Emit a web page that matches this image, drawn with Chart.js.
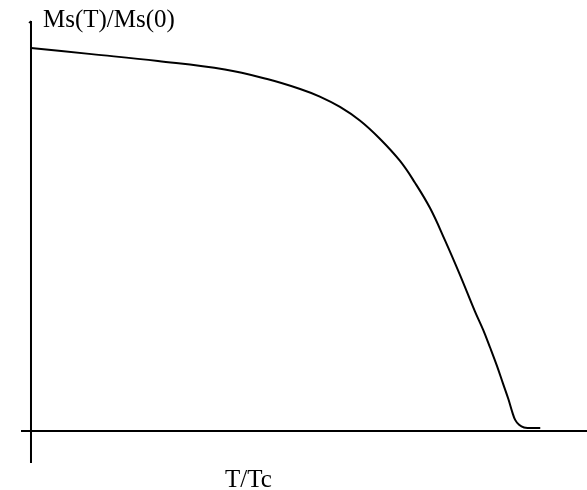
<!DOCTYPE html>
<html>
<head>
<meta charset="utf-8">
<script src="https://cdn.jsdelivr.net/npm/chart.js@4/dist/chart.umd.min.js"></script>
<style>
  html, body { margin: 0; padding: 0; background: #fff; }
  #wrap { width: 587px; height: 490px; position: relative; }
</style>
</head>
<body>
<div id="wrap"><canvas id="c" width="587" height="490"></canvas></div>
<script>
// Data
const tOverTc = [0, 0.123, 0.258, 0.394, 0.480, 0.547, 0.587, 0.628, 0.669, 0.709, 0.750, 0.780, 0.811, 0.841, 0.872, 0.902, 0.919, 0.933, 0.947, 0.959, 0.970, 0.978, 0.984, 0.992, 1.002, 1.014, 1.035];
const msRatio = [1.0, 0.984, 0.966, 0.944, 0.919, 0.893, 0.873, 0.846, 0.810, 0.763, 0.705, 0.649, 0.582, 0.499, 0.407, 0.313, 0.264, 0.218, 0.170, 0.125, 0.084, 0.050, 0.029, 0.016, 0.009, 0.008, 0.008];
const yAxisLabel = "Ms(T)/Ms(0)";
const xAxisLabel = "T/Tc";

const points = tOverTc.map((t, i) => ({ x: t, y: msRatio[i] }));

const axesPlugin = {
  id: 'sketchAxes',
  afterDatasetsDraw(chart) {
    const { ctx, chartArea, scales } = chart;
    const x0 = scales.x.getPixelForValue(0);
    const y0 = scales.y.getPixelForValue(0);
    ctx.save();
    ctx.strokeStyle = '#000';
    ctx.lineWidth = 2;
    ctx.beginPath();
    ctx.moveTo(chartArea.left, y0);
    ctx.lineTo(chartArea.right, y0);
    ctx.moveTo(x0, chartArea.top);
    ctx.lineTo(x0, chartArea.bottom);
    ctx.stroke();
    ctx.lineWidth = 1.5;
    ctx.beginPath();
    ctx.moveTo(x0 - 2, chartArea.top + 2);
    ctx.lineTo(x0, chartArea.top);
    ctx.stroke();
    ctx.fillStyle = '#000';
    ctx.font = '25px "Liberation Serif", "DejaVu Serif", serif';
    ctx.textBaseline = 'alphabetic';
    ctx.textAlign = 'left';
    ctx.fillText(yAxisLabel, x0 + 12, 27);
    ctx.fillText(xAxisLabel, 225, 487);
    ctx.restore();
  }
};

new Chart(document.getElementById('c'), {
  type: 'line',
  data: {
    datasets: [{
      data: points,
      borderColor: '#000',
      borderWidth: 2,
      pointRadius: 0,
      fill: false,
      tension: 0.4
    }]
  },
  options: {
    responsive: false,
    animation: false,
    events: [],
    layout: { padding: { left: 21, right: 0, top: 21, bottom: 27 } },
    plugins: { legend: { display: false }, tooltip: { enabled: false }, title: { display: false } },
    scales: {
      x: { type: 'linear', display: false, min: -0.0203, max: 1.130 },
      y: { type: 'linear', display: false, min: -0.0836, max: 1.0705 }
    }
  },
  plugins: [axesPlugin]
});
</script>
</body>
</html>
